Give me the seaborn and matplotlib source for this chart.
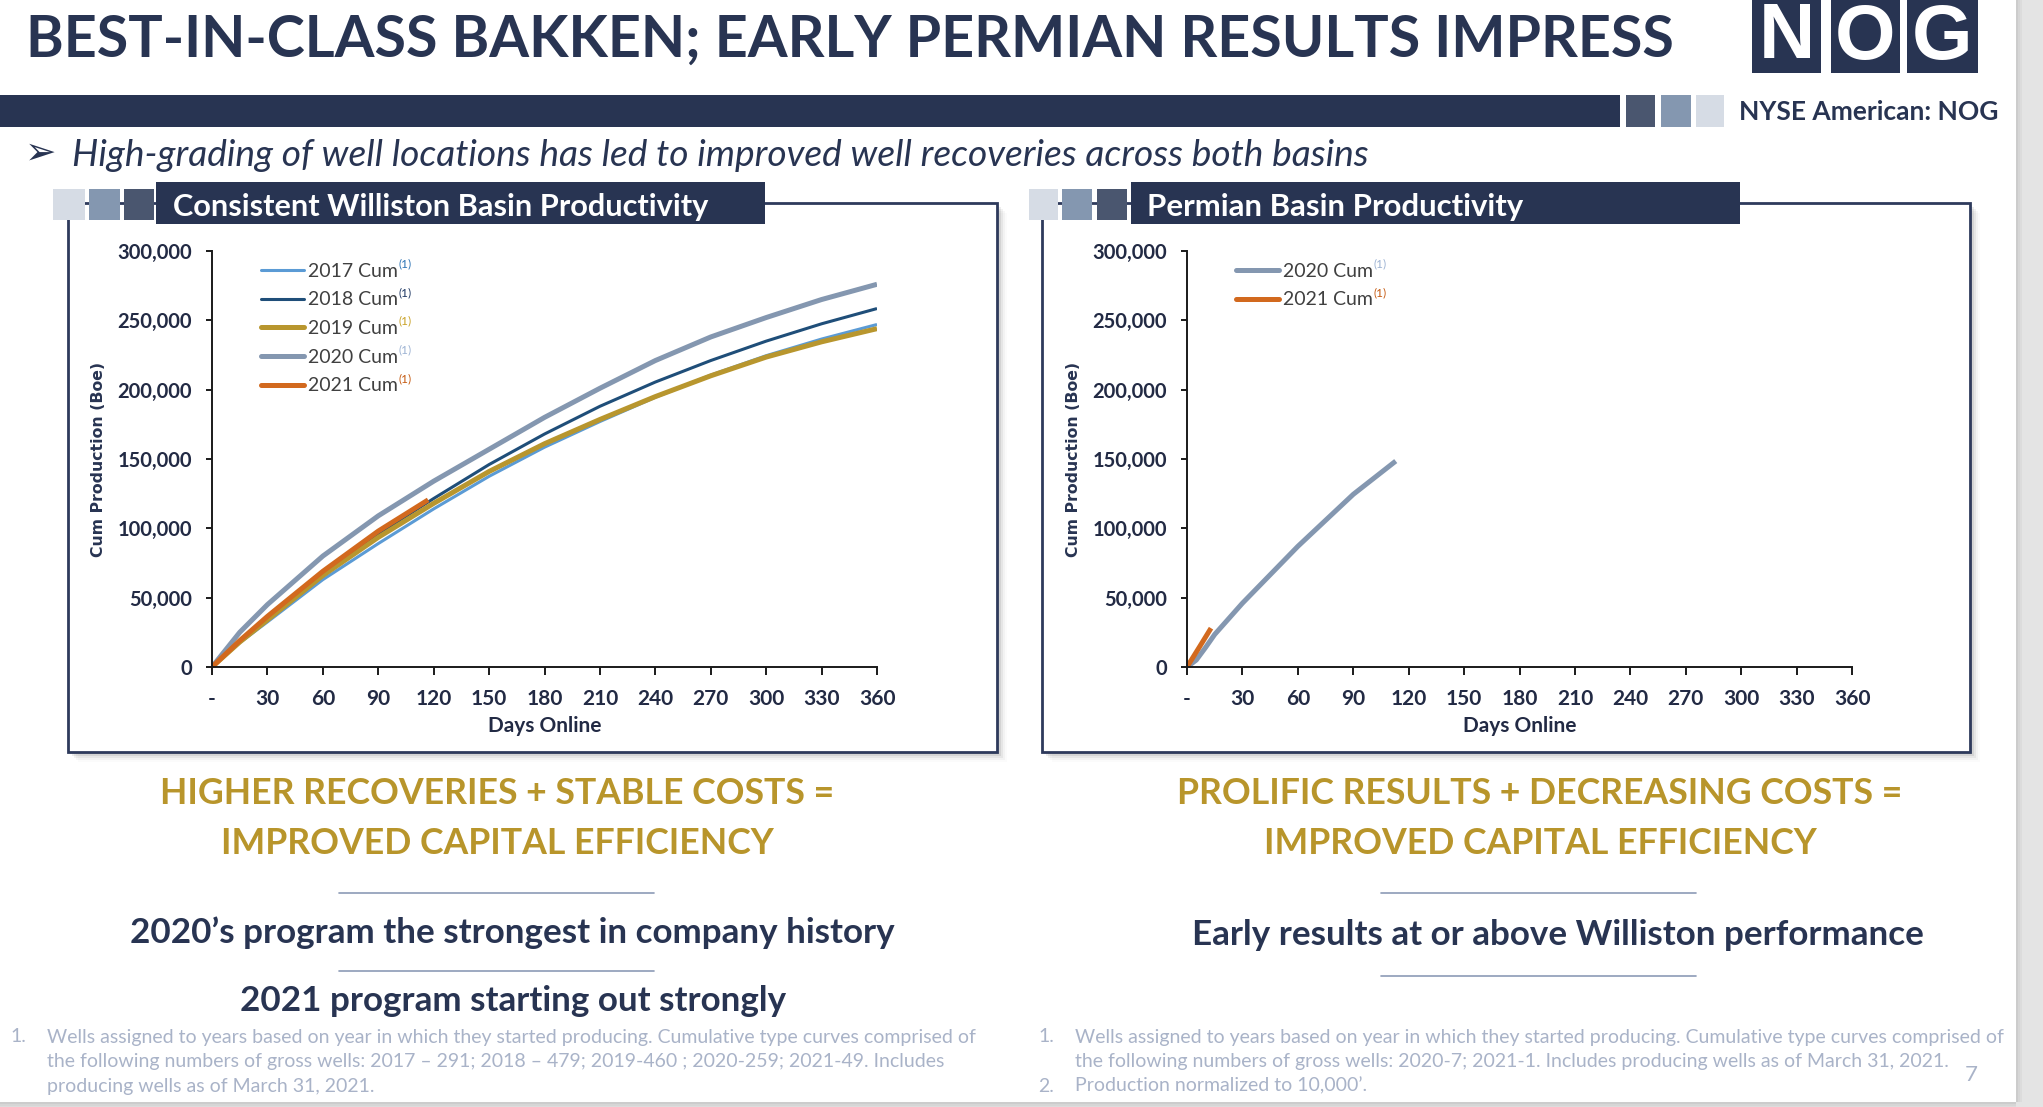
import numpy as np
import pandas as pd
import matplotlib
matplotlib.use("Agg")
import matplotlib.pyplot as plt
import seaborn as sns
from matplotlib.patches import Rectangle
from matplotlib.lines import Line2D
import matplotlib.ticker as mticker

# ---------------- data ----------------
days_hist = [0, 15, 30, 60, 90, 120, 150, 180, 210, 240, 270, 300, 330, 360]
cum_2017 = [0, 17500, 32500, 63000, 89000, 114000, 137500, 158500, 177000, 194500, 210500, 224500, 236500, 247000]
cum_2018 = [0, 19000, 36000, 68000, 96000, 121500, 146000, 168000, 188000, 205500, 221000, 235000, 247500, 258500]
cum_2019 = [0, 18000, 34000, 66000, 93500, 118000, 141000, 161000, 178500, 195000, 210000, 223500, 234500, 244000]
cum_2020 = [0, 25000, 45000, 80000, 109000, 134000, 157000, 180000, 201000, 221000, 238000, 252000, 265000, 276000]
days_2021 = [0, 15, 30, 60, 90, 117]
cum_2021 = [0, 19000, 36500, 69000, 98000, 120500]

perm_days_2020 = [0, 5, 10, 15, 30, 60, 90, 113]
perm_cum_2020 = [0, 5000, 14000, 23500, 46000, 87000, 124500, 148500]
perm_days_2021 = [0, 7, 13]
perm_cum_2021 = [0, 15000, 28000]

series_names = ["2017 Cum", "2018 Cum", "2019 Cum", "2020 Cum", "2021 Cum"]
x_ticks = [0, 30, 60, 90, 120, 150, 180, 210, 240, 270, 300, 330, 360]
x_tick_labels = ["-"] + [str(v) for v in x_ticks[1:]]
y_ticks = [0, 50000, 100000, 150000, 200000, 250000, 300000]

# ---------------- styles ----------------
NAVY = "#283452"
GOLD = "#B8952B"
colors = {"2017 Cum": "#5B9BD5", "2018 Cum": "#1F4E79", "2019 Cum": "#B8962E",
          "2020 Cum": "#8497B0", "2021 Cum": "#D2691E"}
widths = {"2017 Cum": 2.2, "2018 Cum": 2.2, "2019 Cum": 3.6, "2020 Cum": 3.6, "2021 Cum": 3.6}
sup_colors = {"2017 Cum": "#2E75B6", "2018 Cum": "#1F3864", "2019 Cum": "#C9A227",
              "2020 Cum": "#9DB3D3", "2021 Cum": "#C55A11"}

sns.set_style("white")
plt.rcParams["font.family"] = ["Lato", "DejaVu Sans"]

W, H = 2043, 1107
fig = plt.figure(figsize=(W / 100, H / 100), dpi=100)
fig.patch.set_facecolor("white")

bg = fig.add_axes([0, 0, 1, 1])
bg.set_xlim(0, W)
bg.set_ylim(H, 0)
bg.axis("off")
renderer = fig.canvas.get_renderer()


def fit(t, target):
    w = t.get_window_extent(renderer).width
    t.set_fontsize(t.get_fontsize() * target / w)
    return t


def rect(x, y, w, h, **kw):
    bg.add_patch(Rectangle((x, y), w, h, **kw))


# slide surround (grey margin at right / bottom)
rect(2016, 0, W - 2016, H, facecolor="#E4E4E4", edgecolor="none", zorder=0)
rect(0, 1102, W, H - 1102, facecolor="#E4E4E4", edgecolor="none", zorder=0)
for i, a in enumerate([0.10, 0.06, 0.03]):
    rect(2016 + i * 2, 0, 2, 1102, facecolor="black", alpha=a, edgecolor="none", zorder=0.5)
    rect(0, 1102 + i * 2, 2016, 2, facecolor="black", alpha=a, edgecolor="none", zorder=0.5)

# ---------------- header ----------------
t = bg.text(26, 40, "BEST-IN-CLASS BAKKEN; EARLY PERMIAN RESULTS IMPRESS", fontsize=40,
            fontweight="bold", color=NAVY, ha="left", va="center")
fit(t, 1646)

for x0, x1, letter in [(1752, 1821, "N"), (1831, 1900, "O"), (1907, 1978, "G")]:
    rect(x0, 0, x1 - x0, 73, facecolor=NAVY, edgecolor="none", zorder=2)
    bg.text((x0 + x1) / 2, 38, letter, fontsize=56, fontweight="bold", color="white",
            family="Liberation Sans", ha="center", va="center", zorder=3)

rect(0, 95, 1620, 32, facecolor=NAVY, edgecolor="none", zorder=2)
rect(1626, 95, 29, 32, facecolor="#4A566F", edgecolor="none", zorder=2)
rect(1661, 95, 30, 32, facecolor="#8497B0", edgecolor="none", zorder=2)
rect(1696, 95, 28, 32, facecolor="#D6DCE5", edgecolor="none", zorder=2)
t = bg.text(1739, 112, "NYSE American: NOG", fontsize=17, fontweight="bold", color=NAVY,
            ha="left", va="center")
fit(t, 259)

bg.text(25, 154, "\u27A2", fontsize=27, family="DejaVu Sans", color=NAVY, ha="left", va="center")
t = bg.text(72, 156, "High-grading of well locations has led to improved well recoveries across both basins",
            fontsize=24, style="italic", color=NAVY, ha="left", va="center")
fit(t, 1299)

# ---------------- chart boxes ----------------
def chart_frame(bx0, bx1, sq, bar0, bar1, title, title_x, title_w):
    by0, by1 = 203, 752
    for i, a in enumerate([0.10, 0.07, 0.05, 0.03, 0.015]):
        off = 2 + i * 2
        rect(bx0 + off, by0 + off, bx1 - bx0, by1 - by0, facecolor="black", alpha=a,
             edgecolor="none", zorder=1)
    rect(bx0, by0, bx1 - bx0, by1 - by0, facecolor="white", edgecolor="#2E3A5C",
         linewidth=2.0, zorder=2)
    rect(bar0, 182, bar1 - bar0, 42, facecolor=NAVY, edgecolor="none", zorder=3)
    for (s0, s1), c in zip(sq, ["#D6DCE5", "#8497B0", "#4A566F"]):
        rect(s0, 189, s1 - s0, 31, facecolor=c, edgecolor="none", zorder=3)
    tt = bg.text(title_x, 207, title, fontsize=20, fontweight="bold", color="white",
                 ha="left", va="center", zorder=4)
    fit(tt, title_w)


chart_frame(68, 997, [(53, 85), (89, 120), (124, 154)], 156, 765,
            "Consistent Williston Basin Productivity", 173, 537)
chart_frame(1042, 1970, [(1029, 1058), (1062, 1092), (1097, 1127)], 1131, 1740,
            "Permian Basin Productivity", 1147, 376)

# ---------------- data frames ----------------
rows = []
for name, vals in zip(series_names[:4], [cum_2017, cum_2018, cum_2019, cum_2020]):
    for d, v in zip(days_hist, vals):
        rows.append((name, d, v))
for d, v in zip(days_2021, cum_2021):
    rows.append(("2021 Cum", d, v))
df_w = pd.DataFrame(rows, columns=["series", "days", "cum"])

rows = []
for d, v in zip(perm_days_2020, perm_cum_2020):
    rows.append(("2020 Cum", d, v))
for d, v in zip(perm_days_2021, perm_cum_2021):
    rows.append(("2021 Cum", d, v))
df_p = pd.DataFrame(rows, columns=["series", "days", "cum"])

TICK_COLOR = "#222A44"


def make_axes(left_px, df, names):
    ax = fig.add_axes([left_px / W, 1 - 667 / H, 665 / W, 416 / H])
    ax.set_facecolor("none")
    sns.lineplot(data=df, x="days", y="cum", hue="series", hue_order=names,
                 palette={n: colors[n] for n in names}, size="series", size_order=names,
                 sizes={n: widths[n] for n in names}, legend=False, ax=ax,
                 solid_capstyle="butt")
    for ln in ax.get_lines():
        ln.set_solid_joinstyle("round")
    ax.set_xlim(0, 360)
    ax.set_ylim(0, 300000)
    ax.set_xticks(x_ticks)
    ax.set_xticklabels(x_tick_labels)
    ax.set_yticks(y_ticks)
    ax.yaxis.set_major_formatter(mticker.FuncFormatter(lambda v, p: f"{int(v):,}"))
    for s in ["top", "right"]:
        ax.spines[s].set_visible(False)
    for s in ["left", "bottom"]:
        ax.spines[s].set_color("#1A1A1A")
        ax.spines[s].set_linewidth(1.4)
    ax.tick_params(axis="x", direction="out", length=6, width=1.4, color="#1A1A1A",
                   labelsize=15, labelcolor=TICK_COLOR, pad=10, bottom=True)
    ax.tick_params(axis="y", direction="out", length=4.5, width=1.4, color="#1A1A1A",
                   labelsize=14.5, labelcolor=TICK_COLOR, pad=10, left=True)
    for lab in ax.get_xticklabels() + ax.get_yticklabels():
        lab.set_fontweight("bold")
    ax.set_xlabel("Days Online", fontsize=15, fontweight="bold", color=TICK_COLOR, labelpad=5)
    ax.set_ylabel("Cum Production (Boe)", fontsize=11.3, fontweight="bold", color=NAVY,
                  family="DejaVu Sans", labelpad=8)
    handles = [Line2D([0], [0], color=colors[n], lw=widths[n], solid_capstyle="round") for n in names]
    leg = ax.legend(handles, names, loc="upper left", bbox_to_anchor=(0.074, 0.972),
                    frameon=False, fontsize=14, handlelength=2.2, handletextpad=0.2,
                    labelspacing=0.6, borderpad=0, borderaxespad=0)
    for txt in leg.get_texts():
        txt.set_color("#404040")
    return ax, leg


ax1, leg1 = make_axes(212, df_w, series_names)
ax2, leg2 = make_axes(1187, df_p, ["2020 Cum", "2021 Cum"])

# superscript "(1)" after the legend labels
fig.canvas.draw()
for leg in (leg1, leg2):
    for txt in leg.get_texts():
        bb = txt.get_window_extent(renderer)
        fig.text((bb.x1 + 1) / W, (bb.y1 - 1) / H, "(1)", fontsize=8.5,
                 color=sup_colors[txt.get_text()], ha="left", va="center")

# ---------------- lower text ----------------
t = bg.text(497, 794, "HIGHER RECOVERIES + STABLE COSTS =", fontsize=24, fontweight="bold",
            color=GOLD, ha="center", va="center")
fit(t, 675)
gsize = t.get_fontsize()
bg.text(497, 843, "IMPROVED CAPITAL EFFICIENCY", fontsize=gsize, fontweight="bold",
        color=GOLD, ha="center", va="center")
bg.text(1540, 793, "PROLIFIC RESULTS + DECREASING COSTS =", fontsize=gsize, fontweight="bold",
        color=GOLD, ha="center", va="center")
bg.text(1540, 843, "IMPROVED CAPITAL EFFICIENCY", fontsize=gsize, fontweight="bold",
        color=GOLD, ha="center", va="center")

SEP = "#8C9BB6"
for x0, x1, y in [(339, 654, 893), (339, 654, 971), (1381, 1696, 893), (1381, 1696, 976)]:
    bg.plot([x0, x1], [y, y], color=SEP, lw=1.2)

t = bg.text(512, 933, "2020\u2019s program the strongest in company history", fontsize=22,
            fontweight="bold", color=NAVY, ha="center", va="center")
fit(t, 765)
nsize = t.get_fontsize()
bg.text(513, 1001, "2021 program starting out strongly", fontsize=nsize, fontweight="bold",
        color=NAVY, ha="center", va="center")
bg.text(1558, 935, "Early results at or above Williston performance", fontsize=nsize,
        fontweight="bold", color=NAVY, ha="center", va="center")

# ---------------- footnotes ----------------
FN = "#A9B3C8"
t = bg.text(47, 1037, "Wells assigned to years based on year in which they started producing. "
            "Cumulative type curves comprised of", fontsize=12, color=FN, ha="left", va="center")
fit(t, 926)
fs = t.get_fontsize()
foot_left = ["the following numbers of gross wells: 2017 \u2013 291; 2018 \u2013 479; 2019-460 ; "
             "2020-259; 2021-49. Includes",
             "producing wells as of March 31, 2021."]
for i, line in enumerate(foot_left):
    bg.text(47, 1062 + i * 24.5, line, fontsize=fs, color=FN, ha="left", va="center")
bg.text(10, 1037, "1.", fontsize=fs, color=FN, ha="left", va="center")

bg.text(1038, 1037, "1.", fontsize=fs, color=FN, ha="left", va="center")
bg.text(1075, 1037, "Wells assigned to years based on year in which they started producing. "
        "Cumulative type curves comprised of", fontsize=fs, color=FN, ha="left", va="center")
bg.text(1075, 1062, "the following numbers of gross wells: 2020-7; 2021-1. Includes producing "
        "wells as of March 31, 2021.", fontsize=fs, color=FN, ha="left", va="center")
bg.text(1038, 1086, "2.", fontsize=fs, color=FN, ha="left", va="center")
bg.text(1075, 1086, "Production normalized to 10,000\u2019.", fontsize=fs, color=FN,
        ha="left", va="center")
bg.text(1971, 1075, "7", fontsize=16, color=FN, ha="center", va="center")

fig.savefig("out.png", dpi=100)
